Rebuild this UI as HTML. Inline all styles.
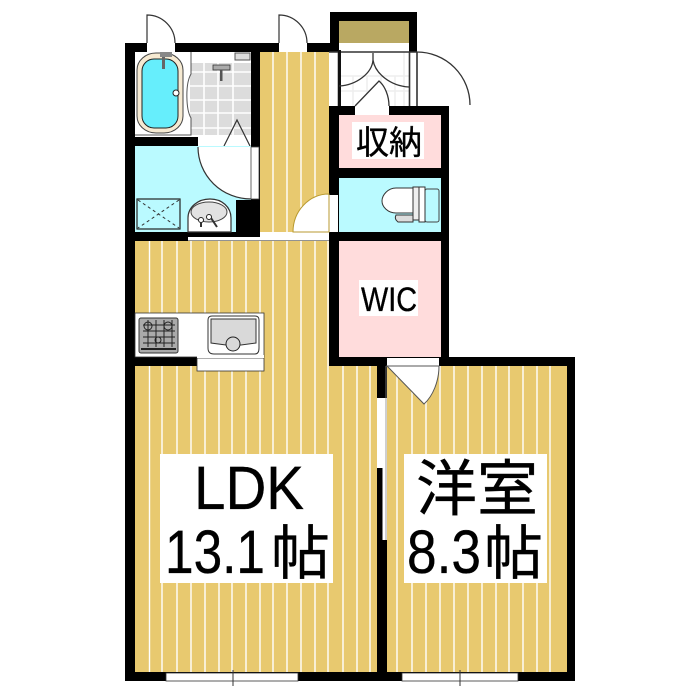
<!DOCTYPE html>
<html lang="ja"><head><meta charset="utf-8"><title>間取り図</title>
<style>html,body{margin:0;padding:0;background:#fff}svg{display:block}
text{font-family:"Liberation Sans","Noto Sans CJK JP",sans-serif;fill:#000;stroke:#000;stroke-width:.35}</style></head>
<body>
<svg width="700" height="700" viewBox="0 0 700 700" xmlns="http://www.w3.org/2000/svg">
<rect width="700" height="700" fill="#fff"/>
<!-- outer black mass -->
<rect x="125" y="43" width="205" height="638"/>
<rect x="330" y="12" width="87" height="40"/>
<rect x="330" y="106" width="119" height="260"/>
<rect x="330" y="357" width="245" height="324"/>
<!-- floors -->
<g fill="#e8c96f">
<rect x="260" y="52" width="69" height="180"/>
<rect x="135" y="241" width="194" height="116"/>
<rect x="197" y="357" width="132" height="10"/>
<rect x="135" y="366" width="242" height="306"/>
<rect x="387" y="366" width="180" height="306"/>
</g>
<g stroke="#fff" stroke-width="1.4" fill="none">
<path d="M273 52V232M287 52V232M301 52V232M315 52V232"/>
<path d="M149.500 241V313M162 241V313M177 241V313M191 241V313M205 241V313M219 241V313M232 241V313M246 241V313M260 241V672M273 241V672M287 241V672M301 241V672M315 241V672M328 241V672"/>
<path d="M149.500 366V672M162 366V672M177 366V672M191 366V672M205 371V672M219 371V672M232 371V672M246 371V672M343 366V672M357 366V672M370 366V672"/>
<path d="M397 366V672M412 366V672M426 400V672M440 366V672M454 366V672M468 366V672M482 366V672M496 366V672M509 366V672M523 366V672M537 366V672M550 366V672"/>
</g>
<!-- entry area -->
<rect x="339" y="21" width="70" height="22" fill="#b9a862"/>
<rect x="339" y="43" width="70" height="9" fill="#fff"/>
<rect x="329" y="52" width="88" height="54" fill="#fff"/>
<g stroke="#eeeeee" stroke-width="1.5" fill="none"><path d="M339 91H409M339 76H409M353 76V106M367 76V106M381 76V106M395 76V106M404 52V106"/></g>
<path d="M338.500 52V106M409.500 52V106M417 52V106M329 52H417" stroke="#333" stroke-width="1.6" fill="none"/>
<rect x="338" y="50" width="3" height="56" fill="#111"/>
<path d="M373 53V60C372 73 357 85 339 86M373 53V60C375 73 390 86 409 87" stroke="#333" stroke-width="1.3" fill="none"/>
<rect x="355" y="106" width="34" height="9" fill="#fff"/>
<path d="M355 106L379 81C385 86 389 96 389 106" stroke="#333" stroke-width="1.3" fill="#fff"/>
<path d="M417 52A53 53 0 0 1 470 105" stroke="#333" stroke-width="1.3" fill="none"/>
<rect x="449" y="106" width="22" height="1" fill="#fff"/>
<!-- top doors -->
<rect x="147" y="43" width="28" height="9" fill="#fff"/>
<rect x="279" y="43" width="28" height="9" fill="#fff"/>
<path d="M147 43V15A28 28 0 0 1 175 43" stroke="#333" stroke-width="1.2" fill="#fff"/>
<path d="M279 43V15A28 28 0 0 1 307 43" stroke="#333" stroke-width="1.2" fill="#fff"/>
<!-- bath -->
<rect x="135" y="52" width="116" height="85" fill="#fff"/>
<rect x="190" y="63" width="61" height="72" fill="#dcdcdc"/>
<g stroke="#fff" stroke-width="1.6"><path d="M204 63V135M218 63V135M233 63V135M190 72H251M190 86H251M190 100H251M190 113H251M190 128H251"/></g>
<path d="M191 52V74C185 84 186 110 191 118V135H135" fill="#fff" stroke="#555" stroke-width="1"/>
<rect x="137" y="53" width="46" height="80" rx="19" ry="17" fill="#f6ead2" stroke="#444" stroke-width="1"/>
<rect x="142" y="59" width="36" height="69" rx="12" fill="#66eefc" stroke="#222" stroke-width="1"/>
<circle cx="176" cy="93" r="3" fill="#fff" stroke="#222"/>
<rect x="160" y="52" width="12" height="5" fill="#888"/><rect x="162" y="57" width="3" height="12" fill="#666"/>
<rect x="235" y="53" width="15" height="7" fill="#ddd" stroke="#555"/>
<rect x="213" y="65" width="17" height="5" fill="#aaa" stroke="#333" stroke-width=".8"/><rect x="220" y="70" width="2.500" height="11" fill="#555"/>
<rect x="198" y="137" width="53" height="9" fill="#fff"/>
<path d="M224 146L237 120L250 146" stroke="#333" stroke-width="1.2" fill="none"/>
<!-- washroom -->
<rect x="135" y="146" width="101" height="86" fill="#bafaff"/>
<rect x="236" y="146" width="15" height="54" fill="#bafaff"/>
<path d="M198 147H251V199A53 52 0 0 1 198 147Z" fill="#fff"/>
<path d="M198 147A53 52 0 0 0 251 199" stroke="#333" stroke-width="1.2" fill="none"/>
<rect x="251" y="147" width="8" height="52" fill="#fff" stroke="#444" stroke-width=".8"/>
<rect x="236" y="200" width="24" height="35"/>
<rect x="137" y="199" width="43" height="30" fill="#bafaff" stroke="#222" stroke-width="1.2"/>
<path d="M138 200L179 228M179 200L138 228" stroke="#333" stroke-width="1" stroke-dasharray="3 3"/>
<path d="M188 232V218C188 207 198 199 210 199C222 199 231 207 231 218V232Z" fill="#fff" stroke="#333" stroke-width="1.200"/>
<ellipse cx="209" cy="212" rx="18" ry="10" fill="#e2e2e2" stroke="#444" stroke-width="1"/>
<circle cx="201" cy="220" r="2.500" fill="#fff" stroke="#222"/><circle cx="209" cy="217" r="2.500" fill="#fff" stroke="#222"/>
<path d="M211 218L217 227" stroke="#333" stroke-width="2"/><path d="M201 222V227" stroke="#333" stroke-width="2"/>
<!-- hall bottom -->
<rect x="188" y="237" width="72" height="3.500" fill="#fff"/>
<rect x="260" y="232" width="69" height="8.500" fill="#fff"/>
<path d="M188 240.500H329" stroke="#999" stroke-width=".8"/>
<rect x="329" y="195" width="9" height="37" fill="#fff"/>
<path d="M293 232A36 38 0 0 1 329 194V232Z" fill="#fff" stroke="#b89a30" stroke-width="1"/>
<!-- storage, toilet, WIC -->
<rect x="339" y="115" width="102" height="53" fill="#ffdcdc"/>
<rect x="339" y="178" width="102" height="54" fill="#bafaff"/>
<rect x="339" y="241" width="102" height="116" fill="#ffdcdc"/>
<path d="M413 188H396C388 188 382 195 382 201C382 207 388 213 396 213H413Z" fill="#fff" stroke="#333" stroke-width="1"/>
<rect x="425" y="189" width="14" height="33" rx="2" fill="#bafaff" stroke="#444" stroke-width="1"/>
<rect x="413" y="187" width="6" height="33" fill="#eee" stroke="#333" stroke-width="1"/>
<rect x="419" y="187" width="6" height="35" fill="#fff" stroke="#333" stroke-width="1"/>
<path d="M396 215H413V222H398Q394 219 396 215Z" fill="#ddd" stroke="#333" stroke-width="1"/>
<!-- kitchen -->
<rect x="135" y="313" width="129" height="44" fill="#fff" stroke="#333" stroke-width=".8"/>
<rect x="197" y="358" width="67" height="13" fill="#fff" stroke="#333" stroke-width=".8"/>
<rect x="197" y="355" width="67" height="3" fill="#fff"/>
<rect x="139" y="318" width="39" height="35" rx="2" fill="#aaa" stroke="#333" stroke-width="1"/>
<g stroke="#222" stroke-width="1" fill="none"><path d="M143 325H175M143 331H175M143 337H175M143 343H175M148 320V347M156 320V347M164 320V347M172 320V347"/><circle cx="148" cy="326" r="4"/><circle cx="168" cy="326" r="4"/><circle cx="158" cy="340" r="3"/><path d="M141 349H176" stroke-width="2"/></g>
<path d="M212 316H255Q259 316 259 320V348Q259 354 255 354H214Q208 354 208 348V320Q208 316 212 316Z" fill="#fff" stroke="#333" stroke-width="1"/>
<path d="M211 319H256V343L241 345H226L211 343Z" fill="#d9d9d9" stroke="#333" stroke-width="1"/>
<circle cx="233" cy="344" r="7" fill="#d9d9d9" stroke="#222" stroke-width="1"/>
<!-- WIC/room door -->
<rect x="387" y="358" width="52" height="8" fill="#fff"/>
<path d="M387 366L424 404C433 396 439 381 439 366Z" fill="#fff" stroke="#555" stroke-width="1"/>
<!-- sliding door -->
<rect x="377" y="398" width="10" height="70" fill="#fff"/>
<rect x="377" y="468" width="5.500" height="72" fill="#000"/>
<rect x="382.500" y="468" width="4.500" height="72" fill="#fff"/>
<path d="M386 366V540" stroke="#888" stroke-width=".8"/>
<!-- bottom windows -->
<rect x="166" y="673" width="132" height="8" fill="#fff" stroke="#333" stroke-width=".8"/>
<rect x="402" y="673" width="116" height="8" fill="#fff" stroke="#333" stroke-width=".8"/>
<path d="M233 670V686M460 670V686" stroke="#333" stroke-width="1"/>
<!-- labels -->
<g fill="#fff"><rect x="352" y="122" width="72" height="37"/><rect x="359" y="280" width="59" height="36"/><rect x="160" y="454" width="173" height="129"/><rect x="404" y="454" width="143" height="129"/></g>
<text x="356" y="154" font-size="33" textLength="66" lengthAdjust="spacingAndGlyphs">収納</text>
<text x="361" y="311" font-size="34" textLength="56" lengthAdjust="spacingAndGlyphs">WIC</text>
<text x="194" y="509" font-size="61" textLength="110" lengthAdjust="spacingAndGlyphs">LDK</text>
<text x="165" y="573" font-size="61" textLength="100" lengthAdjust="spacingAndGlyphs">13.1</text>
<text x="271" y="574" font-size="59" textLength="59" lengthAdjust="spacingAndGlyphs">帖</text>
<text x="416" y="510" font-size="61" textLength="122" lengthAdjust="spacingAndGlyphs">洋室</text>
<text x="407" y="573" font-size="61" textLength="74" lengthAdjust="spacingAndGlyphs">8.3</text>
<text x="484" y="574" font-size="59" textLength="59" lengthAdjust="spacingAndGlyphs">帖</text>
</svg>
</body></html>
